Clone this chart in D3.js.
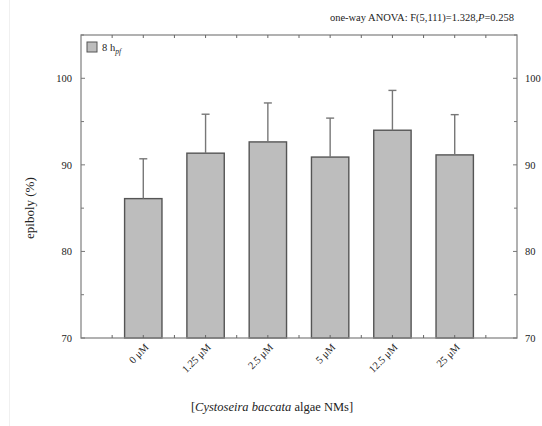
<!DOCTYPE html>
<html>
<head>
<meta charset="utf-8">
<script src="https://cdn.jsdelivr.net/npm/d3@7"></script>
<style>
  body { margin: 0; background: #fff; }
  text, tspan { font-family: "Liberation Serif", "DejaVu Serif", serif; fill: #222; }
</style>
</head>
<body>
<script>
const categories = ["0 \u03bcM", "1.25 \u03bcM", "2.5 \u03bcM", "5 \u03bcM", "12.5 \u03bcM", "25 \u03bcM"];
const means = [86.1, 91.35, 92.65, 90.9, 94.0, 91.15];
const errTops = [90.7, 95.85, 97.15, 95.4, 98.6, 95.8];
const yTicks = [70, 80, 90, 100];

const W = 542, H = 426;
const margin = { top: 35, right: 25, bottom: 88, left: 81 };
const width = W - margin.left - margin.right;
const height = H - margin.top - margin.bottom;

const svg = d3.select("body").append("svg")
  .attr("width", W)
  .attr("height", H);

// faint image border
svg.append("line").attr("x1", 9.5).attr("x2", 9.5).attr("y1", 0).attr("y2", H)
  .attr("stroke", "#f0f0f0");

const g = svg.append("g")
  .attr("transform", `translate(${margin.left},${margin.top})`);

const x = d3.scaleLinear().domain([0, categories.length + 1]).range([0, width]);
const y = d3.scaleLinear().domain([70, 105]).range([height, 0]);
const slot = x(1) - x(0);
const barW = slot * 0.6;

// bars
g.selectAll(".bar")
  .data(means)
  .enter().append("rect")
  .attr("x", (d, i) => x(i + 1) - barW / 2)
  .attr("y", d => y(d))
  .attr("width", barW)
  .attr("height", d => y(70) - y(d))
  .attr("fill", "#bdbdbd")
  .attr("stroke", "#555")
  .attr("stroke-width", 1.4);

// error bars
const err = g.selectAll(".err").data(means).enter().append("g");
err.append("line")
  .attr("x1", (d, i) => x(i + 1)).attr("x2", (d, i) => x(i + 1))
  .attr("y1", d => y(d)).attr("y2", (d, i) => y(errTops[i]))
  .attr("stroke", "#777").attr("stroke-width", 1.4);
err.append("line")
  .attr("x1", (d, i) => x(i + 1) - 4).attr("x2", (d, i) => x(i + 1) + 4)
  .attr("y1", (d, i) => y(errTops[i])).attr("y2", (d, i) => y(errTops[i]))
  .attr("stroke", "#777").attr("stroke-width", 1.4);

// frame
g.append("rect")
  .attr("width", width).attr("height", height)
  .attr("fill", "none").attr("stroke", "#888").attr("stroke-width", 1.3);

// y axes (inner ticks)
const minorY = d3.range(70, 106, 5);
g.selectAll(".yl").data(minorY).enter().append("line")
  .attr("x1", 0).attr("x2", d => d % 10 === 0 ? 4 : 3)
  .attr("y1", d => y(d)).attr("y2", d => y(d))
  .attr("stroke", "#777");
g.selectAll(".yr").data(minorY).enter().append("line")
  .attr("x1", width).attr("x2", d => width - (d % 10 === 0 ? 4 : 3))
  .attr("y1", d => y(d)).attr("y2", d => y(d))
  .attr("stroke", "#777");
g.selectAll(".ytl").data(yTicks).enter().append("text")
  .attr("x", -9).attr("y", d => y(d)).attr("dy", "0.35em")
  .attr("text-anchor", "end").style("font-size", "10.5px")
  .text(d => d);
g.selectAll(".ytr").data(yTicks).enter().append("text")
  .attr("x", width + 8).attr("y", d => y(d)).attr("dy", "0.35em")
  .attr("text-anchor", "start").style("font-size", "10.5px")
  .text(d => d);

// x ticks (top and bottom, every half slot)
const xt = d3.range(0.5, categories.length + 1, 0.5);
g.selectAll(".xb").data(xt).enter().append("line")
  .attr("x1", d => x(d)).attr("x2", d => x(d))
  .attr("y1", height).attr("y2", height - 3)
  .attr("stroke", "#666");
g.selectAll(".xtop").data(xt).enter().append("line")
  .attr("x1", d => x(d)).attr("x2", d => x(d))
  .attr("y1", 0).attr("y2", 3)
  .attr("stroke", "#666");

// category labels, rotated
g.selectAll(".xl").data(categories).enter().append("text")
  .attr("transform", (d, i) => `translate(${x(i + 1) + 6},${height + 10}) rotate(-45)`)
  .attr("text-anchor", "end").style("font-size", "10.5px")
  .text(d => d);

// legend
g.append("rect")
  .attr("x", 6).attr("y", 7).attr("width", 10).attr("height", 10)
  .attr("fill", "#bdbdbd").attr("stroke", "#555");
const leg = g.append("text").attr("x", 21).attr("y", 16).style("font-size", "10.5px");
leg.append("tspan").text("8 h");
leg.append("tspan").attr("dy", 3).style("font-size", "7.5px").style("font-style", "italic").text("pf");

// annotation
svg.append("text")
  .attr("x", 514).attr("y", 21)
  .attr("text-anchor", "end").style("font-size", "10.5px")
  .call(t => {
    t.append("tspan").text("one-way ANOVA: F(5,111)=1.328,");
    t.append("tspan").style("font-style", "italic").text("P");
    t.append("tspan").text("=0.258");
  });

// axis titles
svg.append("text")
  .attr("transform", `translate(34,${margin.top + y(85)}) rotate(-90)`)
  .attr("text-anchor", "middle").style("font-size", "13px")
  .text("epiboly (%)");

svg.append("text")
  .attr("x", 272).attr("y", 411)
  .attr("text-anchor", "middle").style("font-size", "12.5px")
  .call(t => {
    t.append("tspan").text("[");
    t.append("tspan").style("font-style", "italic").text("Cystoseira baccata");
    t.append("tspan").text(" algae NMs]");
  });
</script>
</body>
</html>
